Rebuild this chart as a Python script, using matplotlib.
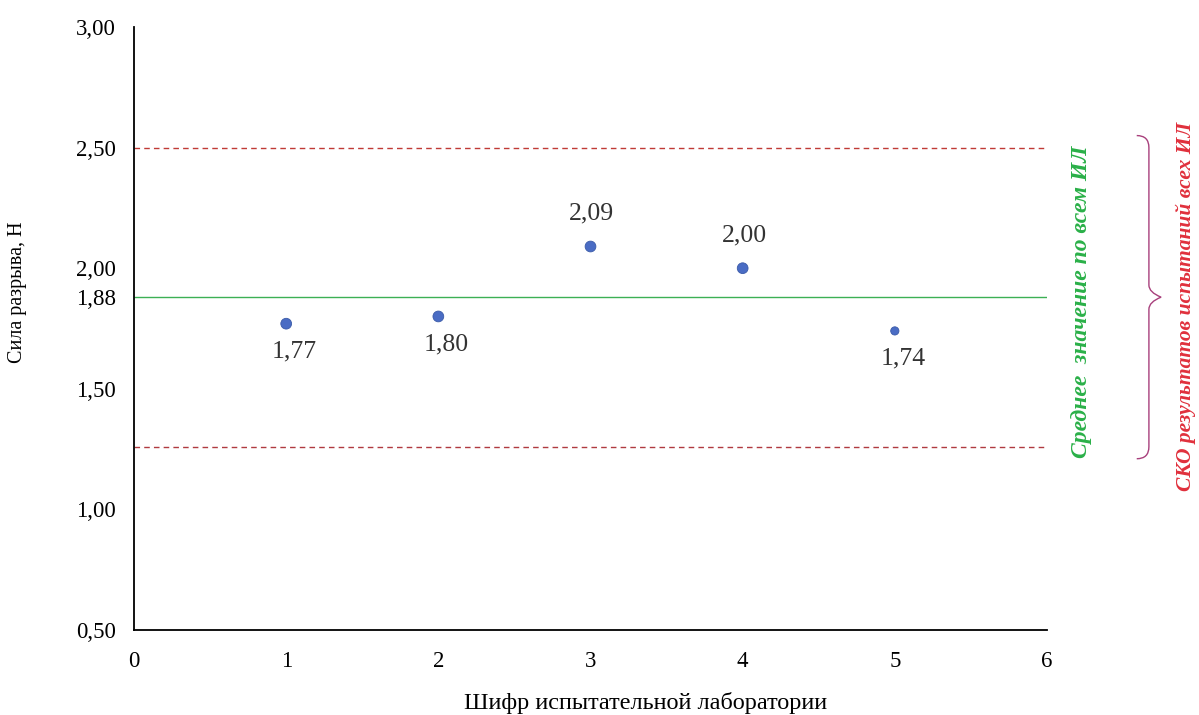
import numpy as np
import matplotlib
matplotlib.use("Agg")
import matplotlib.pyplot as plt
from matplotlib.path import Path
from matplotlib.patches import PathPatch

labs = [1, 2, 3, 4, 5]
force = [1.77, 1.80, 2.09, 2.00, 1.74]
mean_val = 1.88
upper_lim = 2.50
lower_lim = 1.26
label_above = [False, False, True, True, False]
y_ticks = [0.5, 1.0, 1.5, 1.88, 2.0, 2.5, 3.0]
x_ticks = [0, 1, 2, 3, 4, 5, 6]

plt.rcParams['font.family'] = ['Liberation Serif', 'DejaVu Serif']


def comma(v, nd=2):
    return "{:.{}f}".format(v, nd).replace(".", ",")


fig = plt.figure(figsize=(11.99, 7.15), dpi=100)
ax = fig.add_axes([0.1118, 0.1189, 0.7614, 0.8433])

ax.set_xlim(0, 6)
ax.set_ylim(0.5, 3.0)

ax.axhline(mean_val, color='#3cb054', linewidth=1.0)
ax.axhline(upper_lim, color='#c03a36', linewidth=1.0, linestyle=(0, (4, 3)))
ax.axhline(lower_lim, color='#b03a40', linewidth=1.0, linestyle=(0, (4, 3)))

sizes = [60, 60, 60, 60, 35]
ax.scatter(labs, force, s=sizes, color='#4a6cc4', edgecolors='#3a5aa8',
           linewidths=0.6, zorder=3)
for x, y, up in zip(labs, force, label_above):
    if up:
        ax.annotate(comma(y), (x, y), xytext=(1, 16), textcoords='offset points',
                    ha='center', va='bottom', fontsize=18.5, color='#333333')
    else:
        ax.annotate(comma(y), (x, y), xytext=(6, -12), textcoords='offset points',
                    ha='center', va='top', fontsize=18.5, color='#333333')

ax.set_xticks(x_ticks)
ax.set_xticklabels([str(t) for t in x_ticks])
ax.set_yticks(y_ticks)
ax.set_yticklabels([comma(t) for t in y_ticks])
ax.tick_params(axis='both', length=0, labelsize=16.5)
ax.tick_params(axis='y', pad=13)
ax.tick_params(axis='x', pad=15)

for side in ['top', 'right']:
    ax.spines[side].set_visible(False)
for side in ['left', 'bottom']:
    ax.spines[side].set_linewidth(1.3)
    ax.spines[side].set_color('black')

ax.set_ylabel("Сила разрыва, Н", fontsize=14.5)
ax.yaxis.set_label_coords(-0.117, 0.56)
ax.set_xlabel("Шифр испытательной лаборатории", fontsize=17.5)
ax.xaxis.set_label_coords(0.56, -0.103)

# подписи справа
ax.text(6.23, 1.86, "Среднее  значение по всем ИЛ",
        rotation=90, ha='center', va='center', fontsize=17, color='#2ab048',
        fontweight='bold', fontstyle='italic', clip_on=False)
ax.text(6.91, 1.84, "СКО результатов испытаний всех ИЛ",
        rotation=90, ha='center', va='center', fontsize=15.5, color='#e0303c',
        fontweight='bold', fontstyle='italic', clip_on=False)

# фигурная скобка
mid = mean_val
top = 2.55
bot = 1.21
x0, x1, x2 = 6.59, 6.67, 6.75
verts = [(x0, top), (x1, top), (x1, top - 0.05),
         (x1, mid + 0.05),
         (x1, mid + 0.02), (x2, mid),
         (x1, mid - 0.02), (x1, mid - 0.05),
         (x1, bot + 0.05),
         (x1, bot), (x0, bot)]
codes = [Path.MOVETO, Path.CURVE3, Path.CURVE3,
         Path.LINETO,
         Path.CURVE3, Path.CURVE3,
         Path.CURVE3, Path.CURVE3,
         Path.LINETO,
         Path.CURVE3, Path.CURVE3]
brace = PathPatch(Path(verts, codes), facecolor='none', edgecolor='#a8407c',
                  linewidth=1.0, clip_on=False)
ax.add_patch(brace)

fig.savefig("out.png", dpi=100)
